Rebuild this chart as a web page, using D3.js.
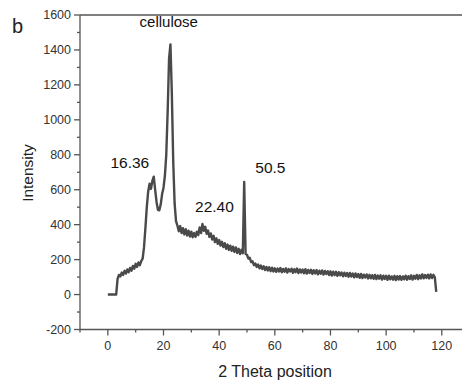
<!DOCTYPE html>
<html><head><meta charset="utf-8">
<script src="https://cdn.jsdelivr.net/npm/d3@7"></script>
<style>body{margin:0;background:#fff}svg{display:block}text{font-family:"Liberation Sans",Arial,sans-serif}</style>
</head><body><svg id="c" width="462" height="383"></svg>
<script>
const panelLabel = "b";
const xTitle = "2 Theta position";
const yTitle = "Intensity";
const xTickValues = [0, 20, 40, 60, 80, 100, 120];
const yTickValues = [-200, 0, 200, 400, 600, 800, 1000, 1200, 1400, 1600];
const peakLabels = [
  {text: "cellulose", x: 21.9, y: 1530, size: 15},
  {text: "16.36", x: 7.9, y: 722, size: 15.5},
  {text: "22.40", x: 38.3, y: 470, size: 15.5},
  {text: "50.5", x: 58.4, y: 693, size: 15.5}
];
// [2θ, intensity]
const scanPoints = [
[0,0],[0.5,0],[1,0],[1.5,0],[2,0],[2.5,0],[3,0],[3.5,90],[4,112],[4.5,104],[5,126],[5.5,112],[6,136],[6.5,120],[7,144],[7.5,128],[8,152],[8.5,136],[9,164],[9.5,148],
[10,176],[10.5,158],[11,184],[11.5,168],[12,192],[12.5,205],[13,270],[13.5,380],[14,500],[14.5,590],[15,635],[15.5,605],[16,650],[16.5,675],[17,600],[17.5,530],[18,485],[18.5,482],[19,515],[19.5,575],
[20,610],[20.5,680],[21,800],[21.5,1050],[22,1350],[22.5,1432],[23,1150],[23.5,760],[24,520],[24.5,420],[25,395],[25.5,362],[26,392],[26.5,352],[27,380],[27.5,344],[28,374],[28.5,338],[29,366],[29.5,332],
[30,360],[30.5,328],[31,352],[31.5,330],[32,360],[32.5,340],[33,384],[33.5,352],[34,404],[34.5,365],[35,388],[35.5,348],[36,366],[36.5,330],[37,350],[37.5,315],[38,336],[38.5,300],[39,322],[39.5,290],
[40,312],[40.5,280],[41,302],[41.5,272],[42,294],[42.5,262],[43,286],[43.5,256],[44,280],[44.5,250],[45,274],[45.5,244],[46,270],[46.5,238],[47,262],[47.5,232],[48,256],[48.5,236],[49,645],[49.5,232],
[50,228],[50.5,206],[51,210],[51.5,186],[52,190],[52.5,168],[53,178],[53.5,158],[54,172],[54.5,150],[55,166],[55.5,146],[56,162],[56.5,140],[57,158],[57.5,138],[58,156],[58.5,134],[59,154],[59.5,132],
[60,150],[60.5,130],[61,149],[61.5,132],[62,152],[62.5,128],[63,147],[63.5,131],[64,150],[64.5,126],[65,146],[65.5,132],[66,148],[66.5,124],[67,145],[67.5,128],[68,149],[68.5,123],[69,144],[69.5,126],
[70,143],[70.5,122],[71,145],[71.5,120],[72,141],[72.5,124],[73,142],[73.5,118],[74,139],[74.5,121],[75,140],[75.5,116],[76,137],[76.5,119],[77,138],[77.5,114],[78,135],[78.5,117],[79,134],[79.5,112],
[80,133],[80.5,109],[81,131],[81.5,111],[82,130],[82.5,107],[83,128],[83.5,110],[84,126],[84.5,104],[85,125],[85.5,106],[86,123],[86.5,102],[87,124],[87.5,103],[88,120],[88.5,98],[89,121],[89.5,100],
[90,117],[90.5,96],[91,118],[91.5,94],[92,114],[92.5,97],[93,115],[93.5,92],[94,113],[94.5,93],[95,111],[95.5,90],[96,112],[96.5,89],[97,109],[97.5,91],[98,110],[98.5,86],[99,108],[99.5,89],
[100,107],[100.5,84],[101,108],[101.5,87],[102,104],[102.5,85],[103,107],[103.5,83],[104,105],[104.5,86],[105,106],[105.5,84],[106,104],[106.5,87],[107,108],[107.5,85],[108,105],[108.5,89],[109,110],[109.5,86],
[110,107],[110.5,91],[111,112],[111.5,88],[112,110],[112.5,92],[113,116],[113.5,93],[114,112],[114.5,95],[115,114],[115.5,92],[116,115],[116.5,94],[117,113],[117.5,98],[118,15]
];

const svg = d3.select("#c");
const mLeft = 80, mTop = 15, mBottom = 329.5;
const x = d3.scaleLinear().domain([-10, 130]).range([mLeft, mLeft + 140 * 2.783]);
const y = d3.scaleLinear().domain([-200, 1600]).range([mBottom, mTop]);
const axisColor = "#555", textColor = "#333";

svg.append("line").attr("x1", mLeft).attr("x2", 462).attr("y1", mTop).attr("y2", mTop)
  .attr("stroke", axisColor).attr("stroke-width", 1.3);

const gx = svg.append("g").attr("transform", `translate(0,${mBottom})`);
gx.append("line").attr("x1", mLeft).attr("x2", 462).attr("stroke", axisColor).attr("stroke-width", 1.3);
const xMinor = d3.range(-10, 130, 10).filter(v => v % 20 !== 0);
gx.selectAll(".xmaj").data(xTickValues).join("line")
  .attr("x1", d => x(d)).attr("x2", d => x(d)).attr("y1", 0).attr("y2", 6)
  .attr("stroke", axisColor).attr("stroke-width", 1.3);
gx.selectAll(".xmin").data(xMinor).join("line")
  .attr("x1", d => x(d)).attr("x2", d => x(d)).attr("y1", 0).attr("y2", 3)
  .attr("stroke", axisColor).attr("stroke-width", 1.3);
gx.selectAll(".xl").data(xTickValues).join("text")
  .attr("x", d => x(d)).attr("y", 20.5).attr("text-anchor", "middle")
  .attr("font-size", 12.5).attr("fill", textColor).text(d => d);

const gy = svg.append("g").attr("transform", `translate(${mLeft},0)`);
gy.append("line").attr("y1", mTop).attr("y2", mBottom).attr("stroke", axisColor).attr("stroke-width", 1.3);
const yMinor = d3.range(-100, 1600, 200);
gy.selectAll(".ymaj").data(yTickValues).join("line")
  .attr("y1", d => y(d)).attr("y2", d => y(d)).attr("x1", 0).attr("x2", -6)
  .attr("stroke", axisColor).attr("stroke-width", 1.3);
gy.selectAll(".ymin").data(yMinor).join("line")
  .attr("y1", d => y(d)).attr("y2", d => y(d)).attr("x1", 0).attr("x2", -3)
  .attr("stroke", axisColor).attr("stroke-width", 1.3);
gy.selectAll(".yl").data(yTickValues).join("text")
  .attr("x", -9).attr("y", d => y(d) + 4.3).attr("text-anchor", "end")
  .attr("font-size", 12.5).attr("fill", textColor).text(d => d);

svg.append("text").attr("x", 275).attr("y", 377).attr("text-anchor", "middle")
  .attr("font-size", 16).attr("fill", "#222").text(xTitle);
svg.append("text").attr("transform", "translate(33,173) rotate(-90)").attr("text-anchor", "middle")
  .attr("font-size", 15.5).attr("fill", "#222").text(yTitle);
svg.append("text").attr("x", 12).attr("y", 33).attr("font-size", 20).attr("fill", "#222").text(panelLabel);

const line = d3.line().x(d => x(d[0])).y(d => y(d[1]));
svg.append("path").datum(scanPoints).attr("d", line)
  .attr("fill", "none").attr("stroke", "#4a4a4a").attr("stroke-width", 2.4).attr("stroke-linejoin", "round");

svg.selectAll(".pk").data(peakLabels).join("text")
  .attr("x", d => x(d.x)).attr("y", d => y(d.y)).attr("text-anchor", "middle")
  .attr("font-size", d => d.size).attr("fill", "#111").text(d => d.text);
</script></body></html>
